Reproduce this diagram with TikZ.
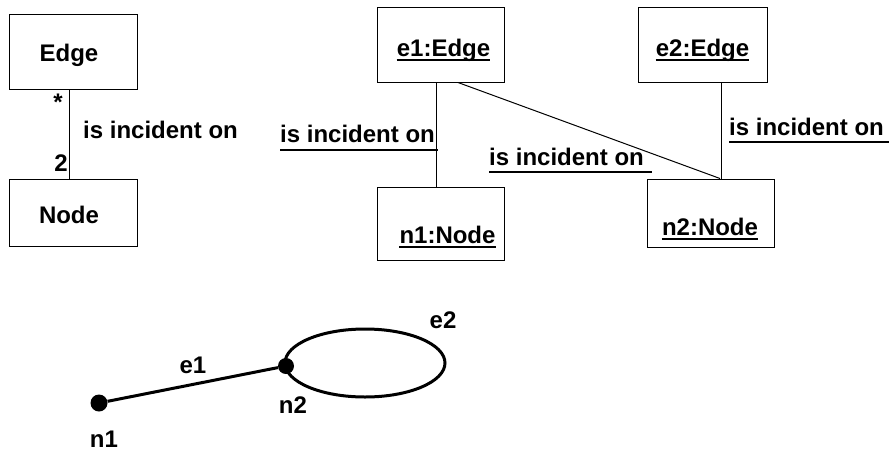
\documentclass[tikz,border=0pt]{standalone}
\usepackage{fontspec}
\setmainfont{Liberation Sans}
\begin{document}
\begin{tikzpicture}[x=1pt,y=-1pt,
  box/.style={draw, line width=1pt, inner sep=0pt, anchor=center},
  lbl/.style={inner sep=0pt, font=\fontsize{24}{28}\selectfont\bfseries},
  uline/.style={line width=2.7pt},
  conn/.style={line width=1pt},
  gedge/.style={line width=3pt},
  dot/.style={circle, fill=black, inner sep=0pt, minimum size=17pt}]
\useasboundingbox (0,0) rectangle (889,453);
% class diagram
\node[box, minimum width=128pt, minimum height=75pt] (Edge) at (73,51.5) {};
\node[box, minimum width=128pt, minimum height=67pt] (Node) at (73,212.5) {};
\node[lbl, anchor=base] (tEdge) at (69,61) {Edge};
\node[lbl, anchor=base] (tNode) at (69,223) {Node};
\draw[conn] ([xshift=-4pt]Edge.south) -- ([xshift=-4pt]Node.north);
\node[lbl, anchor=north] (mstar) at (58,94) {*};
\node[lbl, anchor=base] (mtwo) at (61,171) {2};
\node[lbl, anchor=base west] (a1) at (83,138) {is incident on};
% object diagram
\node[box, minimum width=127pt, minimum height=75pt] (e1) at (440.5,44.5) {};
\node[box, minimum width=127pt, minimum height=73pt] (n1) at (440.5,223.5) {};
\node[box, minimum width=129pt, minimum height=75pt] (e2) at (702.5,44.5) {};
\node[box, minimum width=127pt, minimum height=68pt] (n2) at (710.5,213) {};
\node[lbl, anchor=base] (te1) at (443.5,56) {e1:Edge};
\node[lbl, anchor=base] (tn1) at (447.5,243) {n1:Node};
\node[lbl, anchor=base] (te2) at (702.5,56) {e2:Edge};
\node[lbl, anchor=base] (tn2) at (710,235) {n2:Node};
\foreach \t in {te1,tn1,te2,tn2}
  \draw[uline] ([yshift=-4pt]\t.base west) -- ([yshift=-4pt]\t.base east);
\draw[conn] ([xshift=-4.5pt]e1.south) -- ([xshift=-4.5pt]n1.north);
\draw[conn] ([xshift=17.5pt]e1.south) -- ([xshift=9.5pt]n2.north);
\draw[conn] ([xshift=18.5pt]e2.south) -- ([xshift=10.5pt]n2.north);
\node[lbl, anchor=base west] (a2) at (280,142) {is incident on};
\node[lbl, anchor=base west] (a3) at (489,165) {is incident on};
\node[lbl, anchor=base west] (a4) at (729,135) {is incident on};
\draw[uline] ([yshift=-8pt]a2.base west) -- ([yshift=-8pt]a2.base east) -- ++(3,0);
\draw[uline] ([yshift=-7pt]a3.base west) -- ([yshift=-7pt]a3.base east) -- ++(8,0);
\draw[uline] ([yshift=-7pt]a4.base west) -- ([yshift=-7pt]a4.base east) -- ++(6,0);
% graph
\draw[gedge] (365,363) ellipse [x radius=80pt, y radius=34pt];
\node[dot] (g1) at (99,403) {};
\node[dot, minimum size=16pt] (g2) at (286,366) {};
\draw[gedge] (g1) -- (g2);
\node[lbl, anchor=base] (le1) at (193,373) {e1};
\node[lbl, anchor=base] (le2) at (443,328) {e2};
\node[lbl, anchor=base] (ln2) at (293,413) {n2};
\node[lbl, anchor=base] (ln1) at (104,447) {n1};
\end{tikzpicture}
\end{document}
